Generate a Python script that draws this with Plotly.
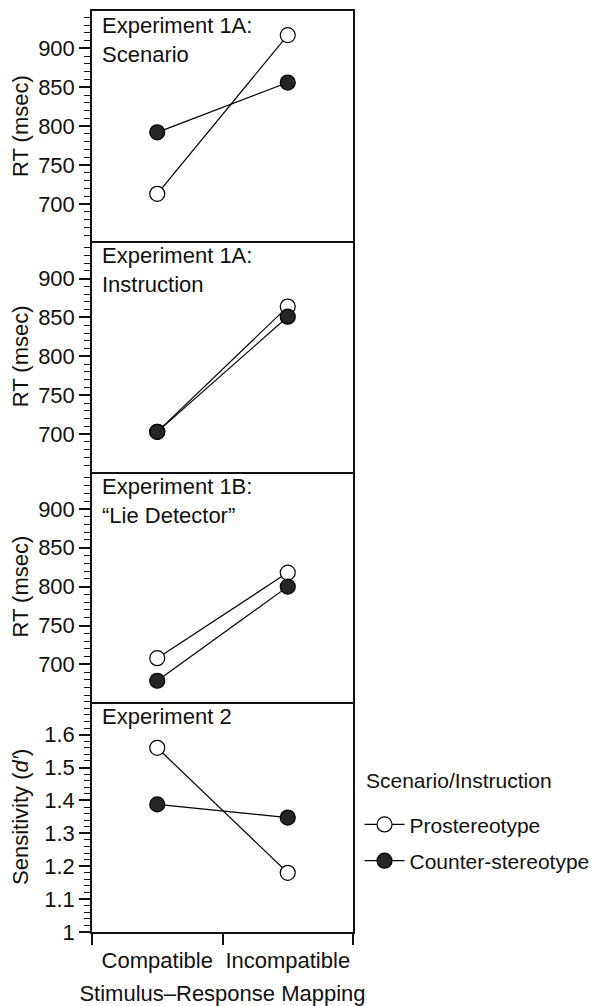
import plotly.graph_objects as go
from plotly.subplots import make_subplots

# ---- data ----
conditions = ["Compatible", "Incompatible"]
cond_x = [0.5, 1.5]
panel_titles = ["Experiment 1A:<br>Scenario", "Experiment 1A:<br>Instruction",
                "Experiment 1B:<br>\u201cLie Detector\u201d", "Experiment 2"]
prostereotype = [[713, 917], [703, 864], [708, 818], [1.56, 1.18]]
counter_stereotype = [[792, 856], [703, 851], [679, 800], [1.388, 1.348]]
series_names = ["Prostereotype", "Counter-stereotype"]
legend_title = "Scenario/Instruction"
y_titles = ["RT (msec)", "RT (msec)", "RT (msec)", "Sensitivity (<i>d\u2032</i>)"]
rt_ticks = [700, 750, 800, 850, 900]
dprime_ticks = [1.0, 1.1, 1.2, 1.3, 1.4, 1.5, 1.6]
dprime_labels = ["1", "1.1", "1.2", "1.3", "1.4", "1.5", "1.6"]

FONT = "Liberation Sans, Arial, sans-serif"
FS = 22
LFS = 21
INK = "#111"
fig = make_subplots(rows=4, cols=1, shared_xaxes=True, vertical_spacing=0)

for i in range(4):
    r = i + 1
    fig.add_trace(go.Scatter(
        x=cond_x, y=prostereotype[i], mode="lines+markers", name=series_names[0],
        line=dict(color="black", width=1.2),
        marker=dict(size=15, color="white", line=dict(color="black", width=1.2)),
        showlegend=(i == 0), legendgroup="a"), row=r, col=1)
    fig.add_trace(go.Scatter(
        x=cond_x, y=counter_stereotype[i], mode="lines+markers", name=series_names[1],
        line=dict(color="black", width=1.2),
        marker=dict(size=15, color="#252525", line=dict(color="black", width=1.2)),
        showlegend=(i == 0), legendgroup="b"), row=r, col=1)
    sfx = str(r) if r > 1 else ""
    fig.add_annotation(text=panel_titles[i], xref=f"x{sfx} domain",
                       yref=f"y{sfx} domain", x=0.03, y=1,
                       xanchor="left", yanchor="top", yshift=0, align="left",
                       showarrow=False, font=dict(family=FONT, size=FS, color=INK))

for i in range(4):
    r = i + 1
    common = dict(showline=True, linecolor=INK, linewidth=1.5, mirror=True,
                  ticks="outside", ticklen=11, tickwidth=1.5, tickcolor=INK,
                  showgrid=False, zeroline=False,
                  tickfont=dict(family=FONT, size=FS, color=INK),
                  title=dict(text=y_titles[i], font=dict(family=FONT, size=FS, color=INK),
                             standoff=7 if i < 3 else 13))
    if i < 3:
        fig.update_yaxes(range=[652, 948], tickvals=rt_ticks,
                         minor=dict(dtick=10, tick0=0, ticks="outside", ticklen=6,
                                    tickwidth=1.2, tickcolor=INK),
                         row=r, col=1, **common)
    else:
        fig.update_yaxes(range=[1.0, 1.70], tickvals=dprime_ticks, ticktext=dprime_labels,
                         minor=dict(dtick=0.02, tick0=0, ticks="outside", ticklen=6,
                                    tickwidth=1.2, tickcolor=INK),
                         row=r, col=1, **common)
    xcommon = dict(range=[0, 2], showline=True, linecolor=INK, linewidth=1.5,
                   mirror=(i == 0), showgrid=False, zeroline=False)
    if i < 3:
        fig.update_xaxes(ticks="", showticklabels=False, row=r, col=1, **xcommon)
    else:
        fig.update_xaxes(tickvals=cond_x, ticktext=conditions, ticks="", ticklen=0,
                         showticklabels=True, ticklabelstandoff=8,
                         tickfont=dict(family=FONT, size=FS, color=INK),
                         minor=dict(tickvals=[0, 1, 2], ticks="outside", ticklen=11,
                                    tickwidth=1.5, tickcolor=INK),
                         title=dict(text="Stimulus\u2013Response Mapping",
                                    font=dict(family=FONT, size=FS, color=INK),
                                    standoff=14),
                         row=r, col=1, **xcommon)

fig.add_annotation(text=legend_title, xref="paper", yref="paper", x=1.044, y=0.1647,
                   xanchor="left", yanchor="middle", showarrow=False,
                   font=dict(family=FONT, size=LFS, color=INK))

fig.update_layout(
    width=597, height=998,
    margin=dict(l=84, r=252, t=1, b=74),
    plot_bgcolor="white", paper_bgcolor="white",
    font=dict(family=FONT, size=FS, color=INK),
    legend=dict(x=1.025, xanchor="left", y=0.1387, yanchor="top",
                font=dict(family=FONT, size=LFS, color=INK),
                traceorder="grouped", tracegroupgap=6, itemwidth=40,
                bgcolor="rgba(0,0,0,0)"),
)

fig.write_html("out.html")
